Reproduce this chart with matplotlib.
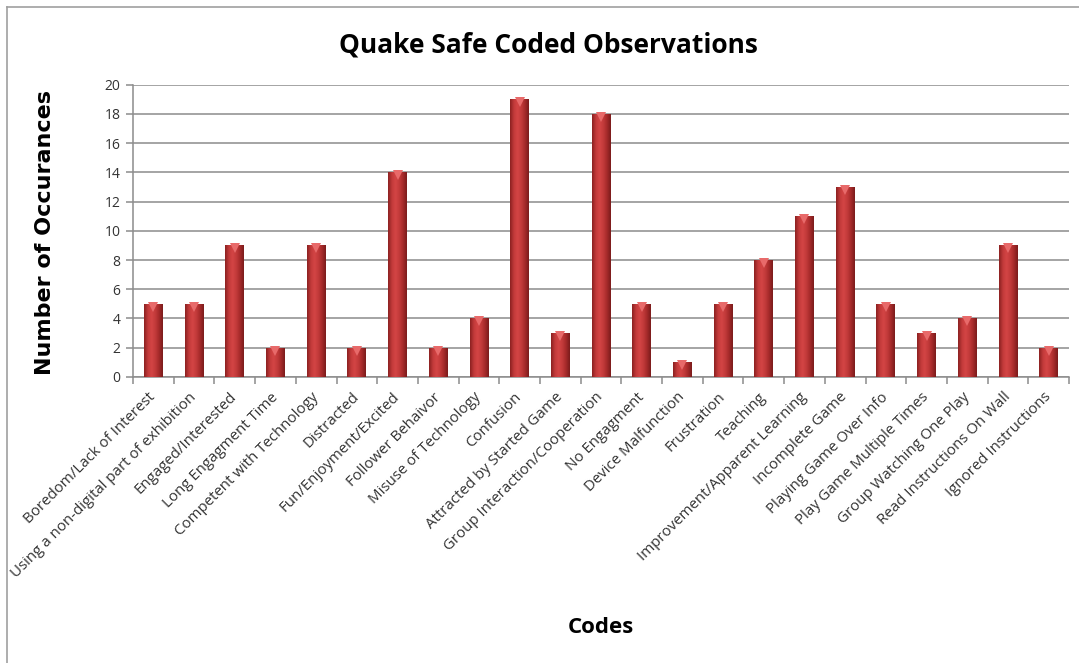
import numpy as np
import matplotlib
matplotlib.use("Agg")
import matplotlib.pyplot as plt
from matplotlib.colors import LinearSegmentedColormap
from matplotlib.lines import Line2D

codes = ["Boredom/Lack of Interest", "Using a non-digital part of exhibition",
         "Engaged/Interested", "Long Engagment Time", "Competent with Technology",
         "Distracted", "Fun/Enjoyment/Excited", "Follower Behaivor",
         "Misuse of Technology", "Confusion", "Attracted by Started Game",
         "Group Interaction/Cooperation", "No Engagment", "Device Malfunction",
         "Frustration", "Teaching", "Improvement/Apparent Learning",
         "Incomplete Game", "Playing Game Over Info", "Play Game Multiple Times",
         "Group Watching One Play", "Read Instructions On Wall", "Ignored Instructions"]
counts = [5, 5, 9, 2, 9, 2, 14, 2, 4, 19, 3, 18, 5, 1, 5, 8, 11, 13, 5, 3, 4, 9, 2]
y_ticks = [0, 2, 4, 6, 8, 10, 12, 14, 16, 18, 20]

plt.rcParams['font.family'] = ['Open Sans', 'DejaVu Sans']
grey = '#8c8c8c'

fig = plt.figure(figsize=(10.79, 6.63), dpi=100)
ax = fig.add_axes([0.1233, 0.4314, 0.8674, 0.4411])

x = np.arange(len(codes))
bars = ax.bar(x, counts, width=0.46, color='#b83232', zorder=3)

# cylinder-ish shading like the old Excel bars
shade = LinearSegmentedColormap.from_list(
    'shade', ['#8a2020', '#c23a3a', '#d44545', '#c23a3a', '#a52a2a', '#7a1c1c'])
grad = np.linspace(0, 1, 64).reshape(1, -1)
for b in bars:
    bx, bw, bh = b.get_x(), b.get_width(), b.get_height()
    im = ax.imshow(grad, cmap=shade, aspect='auto', zorder=4,
                   extent=[bx, bx + bw, 0, bh], interpolation='bicubic')
    im.set_clip_path(b)
    ax.plot(bx + bw / 2, bh - 0.2, marker='v', markersize=7,
            color='#e86a6a', markeredgewidth=0, zorder=5)

ax.set_xlim(-0.5, len(codes) - 0.5)
ax.set_ylim(0, 20)
ax.set_yticks(y_ticks)
ax.set_yticklabels([str(t) for t in y_ticks], fontsize=10, color='#333333')
ax.yaxis.grid(True, color=grey, linewidth=1.1, zorder=0)
ax.set_axisbelow(True)

ax.set_xticks(x)
ax.set_xticklabels(codes, rotation=45, ha='right', va='center',
                   rotation_mode='anchor', fontsize=10.8, color='#333333')
ax.tick_params(axis='x', length=0, pad=13)
ax.set_xticks(np.arange(-0.5, len(codes), 1), minor=True)
ax.tick_params(axis='x', which='minor', length=5, color=grey, width=1.1)
ax.tick_params(axis='y', length=5, color=grey, width=1.1, pad=4)

for s in ['top', 'right']:
    ax.spines[s].set_visible(False)
for s in ['left', 'bottom']:
    ax.spines[s].set_color(grey)
    ax.spines[s].set_linewidth(1.1)

fig.text(0.508, 0.932, 'Quake Safe Coded Observations', ha='center', va='center',
         fontsize=19, fontweight='bold')
fig.text(0.042, 0.65, 'Number of Occurances', ha='center', va='center',
         rotation=90, fontsize=16, fontweight='bold', family='DejaVu Sans')
fig.text(0.557, 0.053, 'Codes', ha='center', va='center', fontsize=16, fontweight='bold')

# chart frame (only top and left edges show in the crop)
fig.add_artist(Line2D([0.0065, 1.0], [0.989, 0.989], color='#a0a0a0', linewidth=1.2))
fig.add_artist(Line2D([0.0065, 0.0065], [0.0, 0.989], color='#a0a0a0', linewidth=1.2))

fig.savefig('out.png', dpi=100)
